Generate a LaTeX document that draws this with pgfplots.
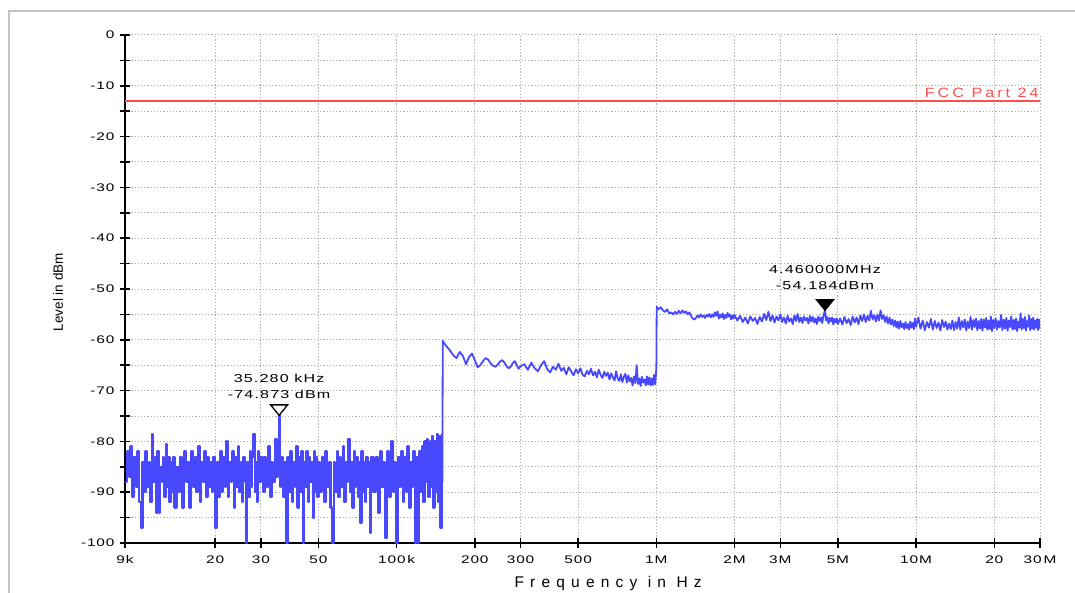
\documentclass[border=0pt]{standalone}
\usepackage{fontspec}
\setmainfont{Liberation Sans}
\newfontfamily\tickfont[FakeStretch=1.4,LetterSpace=8]{Liberation Sans}
\newfontfamily\xlabfont[LetterSpace=40]{Liberation Sans}
\newfontfamily\mkfont[FakeStretch=1.4,LetterSpace=10]{Liberation Sans}
\newfontfamily\fccfont[FakeStretch=1.2,LetterSpace=22]{Liberation Sans}
\usepackage{pgfplots}
\pgfplotsset{compat=1.18}
\definecolor{trace}{RGB}{72,72,255}
\definecolor{limit}{RGB}{255,77,77}
\definecolor{frame}{RGB}{195,195,195}
\pgfdeclareplotmark{tridown}{%
  \pgfpathmoveto{\pgfqpoint{0pt}{0pt}}%
  \pgfpathlineto{\pgfqpoint{-8.5pt}{10.5pt}}%
  \pgfpathlineto{\pgfqpoint{8.5pt}{10.5pt}}%
  \pgfpathclose
  \pgfusepathqfillstroke}
\begin{document}
\begin{tikzpicture}[x=1pt,y=1pt]
\draw[frame, line width=1.5pt] (9,-10) -- (9,581) -- (1085,581);
\begin{axis}[
  at={(125pt,49pt)}, anchor=south west,
  scale only axis, width=915pt, height=508pt,
  xmode=log, xmin=9000, xmax=30000000, ymin=-100, ymax=0,
  axis lines=left, axis line style={-, line width=2pt, black},
  xtick={9000,20000,30000,50000,100000,200000,300000,500000,1000000,2000000,3000000,5000000,10000000,20000000,30000000},
  xticklabels={9k,20,30,50,100\,k,200,300,500,1M,2M,3M,5M,10M,20,30\,M},
  minor xtick={},
  ytick={-100,-90,...,0},
  yticklabels={-100,-90,-80,-70,-60,-50,-40,-30,-20,-10,0},
  minor ytick={-95,-85,...,-5},
  grid=both,
  major grid style={dash pattern=on 1.2pt off 2pt, line width=1pt, black!32},
  minor grid style={dash pattern=on 1.2pt off 2pt, line width=1pt, black!32},
  tick align=center,
  major tick length=10pt, minor tick length=10pt,
  every tick/.style={black, line width=1.5pt},
  xticklabel style={font=\tickfont\fontsize{11}{13}\selectfont, yshift=-4pt},
  yticklabel style={font=\tickfont\fontsize{11}{13}\selectfont, xshift=-2pt},
  xlabel={Frequency in Hz},
  xlabel style={font=\xlabfont\fontsize{15.5}{17}\selectfont, at={(axis description cs:0.528,0)}, anchor=base, yshift=-44.5pt},
  ylabel={Level in dBm},
  ylabel style={font=\fontsize{13.5}{15}\selectfont, at={(axis description cs:-0.0732,0.494)}, anchor=center},
]
\addplot[limit, line width=2.8pt] coordinates {(9000,-13) (30000000,-13)}
  node[pos=1, anchor=base east, yshift=3.5pt, inner sep=0pt, font=\fccfont\fontsize{13.5}{15}\selectfont, text=limit] {FCC Part 24};
\addplot[trace, line width=2.2pt, line join=round, mark=none, const plot] coordinates {
(9000,-88)(9150,-82)(9300,-87)(9450,-81)(9600,-91)(9750,-83)(9900,-89)(10050,-82)(10200,-92)(10350,-97)(10500,-84)(10650,-90)(10800,-82)(10950,-89)(11100,-84)(11250,-92)(11400,-78.5)(11550,-88)(11700,-83)(11850,-94)(12000,-82)(12150,-94)(12300,-85)(12450,-88)(12600,-83)(12750,-91)(12900,-80.5)(13050,-89)(13200,-83)(13350,-92)(13500,-84)(13650,-90)(13800,-83)(13950,-93)
(14200,-85)(14450,-90)(14700,-83)(14950,-93)(15200,-82)(15450,-88)(15700,-84)(15950,-93)(16200,-82)(16450,-89)(16700,-83)(16950,-90)(17200,-81)(17450,-92)(17700,-84)(17950,-88)(18200,-82)(18450,-91)(18700,-83)(18950,-89)(19200,-84)(19450,-90)(19700,-83)(19950,-97)
(20300,-84)(20600,-91)(20900,-82)(21200,-90)(21500,-83)(21800,-89)(22100,-80)(22400,-91)(22700,-84)(23000,-88)(23300,-82)(23600,-93)(23900,-83)(24200,-89)(24500,-81)(24800,-90)(25100,-84)(25400,-92)(25700,-83)(26000,-88)(26300,-100)(26600,-84)(26900,-91)(27200,-82)(27500,-89)(27800,-83)(28100,-78.5)(28400,-90)(28700,-84)(29000,-92)(29300,-82)(29600,-88)(29900,-83)
(30500,-90)(31000,-83)(31500,-89)(32000,-81)(32500,-91)(33000,-84)(33500,-88)(34000,-79.5)(34500,-87)(35000,-82)(35280,-74.873)(35500,-89)(36000,-83)(36500,-91)(37000,-84)(37500,-100)(38000,-83)(38500,-90)(39000,-82)(39500,-92)(40000,-84)(40500,-89)(41000,-81)(41500,-93)(42000,-83)(42500,-90)(43000,-82)(43500,-100)(44000,-84)(44500,-89)(45000,-82)(45500,-92)(46000,-83)(46500,-88)(47000,-84)(47500,-95)(48000,-82)(48500,-90)(49000,-83)(49500,-91)(50000,-84)
(50800,-90)(51600,-83)(52400,-92)(53200,-82)(54000,-89)(54800,-84)(55600,-93)(56400,-100)(57200,-84)(58000,-90)(58800,-82)(59600,-91)(60400,-83)(61200,-89)(62000,-81)(62800,-92)(63600,-84)(64400,-88)(65200,-79.5)(66000,-90)(66800,-84)(67600,-93)(68400,-82)(69200,-89)(70000,-83)(70800,-91)(71600,-84)(72400,-96)(73200,-82)(74000,-90)(74800,-84)(75600,-92)(76400,-83)(77200,-89)(78000,-84)(78800,-98)(79600,-83)
(81500,-90)(83000,-83)(84500,-94)(86000,-82)(87500,-89)(89000,-84)(90500,-99)(92000,-82)(93500,-91)(95000,-80)(96500,-90)(98000,-84)(99500,-100)(101000,-83)(102500,-89)(104000,-82)(105500,-92)(107000,-83)(108500,-90)(110000,-81)(111500,-93)(113000,-84)(114500,-89)(116000,-82)(117500,-100)(119000,-83)(120500,-100)(122000,-82)(123500,-90)(125000,-81)(126500,-92)(128000,-80)(129500,-88)(131000,-79.5)(132500,-91)(134000,-80)(135500,-89)(137000,-79)(138500,-93)(140000,-80)(141500,-90)(143000,-78.5)(144500,-92)(146000,-79)(147500,-97)(149000,-78.5)(150000,-88)
};
\addplot[trace, line width=1.8pt, line join=round, mark=none] coordinates {
(150000,-88)(150500,-60.2)(155000,-61.2)(160000,-62.0)(165000,-63.0)(170000,-63.6)(175000,-62.4)(180000,-63.2)(185000,-64.8)(190000,-63.4)(195000,-62.7)(200000,-64.0)(205000,-65.4)(210000,-65.0)(215000,-64.2)(220000,-63.6)(225000,-63.9)(230000,-64.6)(235000,-65.1)(240000,-65.3)(245000,-64.9)(250000,-64.3)(255000,-64.0)(260000,-64.5)(265000,-65.2)(270000,-65.6)(275000,-65.3)(280000,-64.6)(285000,-64.2)(290000,-65.0)(295000,-65.7)(300000,-65.2)
(310000,-64.8)(320000,-65.9)(330000,-64.5)(340000,-65.6)(350000,-66.2)(360000,-65.0)(370000,-64.2)(380000,-65.8)(390000,-66.4)(400000,-65.3)(410000,-65.9)(420000,-64.7)(430000,-66.1)(440000,-65.5)(450000,-66.8)(460000,-65.4)(470000,-66.2)(480000,-67.0)(490000,-65.8)(500000,-66.6)
(510000,-65.6)(520000,-66.9)(530000,-67.2)(540000,-66.1)(550000,-66.8)(560000,-65.7)(570000,-67.0)(580000,-66.3)(590000,-67.4)(600000,-65.9)(610000,-66.9)(620000,-67.5)(630000,-66.3)(640000,-67.1)(650000,-66.5)(660000,-67.8)(670000,-66.6)(680000,-67.4)(690000,-68.0)(700000,-66.2)
(710000,-67.6)(720000,-68.1)(730000,-66.8)(740000,-68.3)(750000,-67.3)(760000,-66.7)(770000,-68.4)(780000,-67.0)(790000,-68.2)(800000,-67.5)(810000,-69.0)(820000,-67.2)(830000,-68.5)(840000,-65.0)(850000,-68.7)(860000,-67.6)(870000,-69.1)(880000,-67.3)(890000,-68.4)(900000,-67.8)
(910000,-69.0)(920000,-67.2)(930000,-68.8)(940000,-67.4)(950000,-69.0)(960000,-67.6)(970000,-68.9)(980000,-66.9)(990000,-68.8)(1000000,-65.5)
(1003000,-53.5)(1020000,-54.0)(1040000,-53.6)(1060000,-54.2)(1080000,-54.5)(1100000,-54.0)(1120000,-54.8)(1140000,-54.6)(1160000,-55.0)(1180000,-54.5)(1200000,-54.9)(1220000,-54.3)(1240000,-54.8)(1260000,-54.2)(1280000,-54.7)(1300000,-54.4)(1320000,-55.0)(1340000,-54.6)(1360000,-55.3)(1380000,-55.8)(1400000,-56.0)
(1420000,-55.7)(1440000,-55.2)(1460000,-55.6)(1480000,-55.0)(1500000,-55.5)(1520000,-55.2)(1540000,-55.7)(1560000,-55.1)(1580000,-55.4)(1600000,-54.9)(1620000,-55.6)(1640000,-55.0)(1660000,-55.5)(1680000,-54.6)(1700000,-55.3)(1720000,-54.4)(1740000,-55.8)(1760000,-55.0)(1780000,-55.6)(1800000,-54.8)
(1820000,-55.9)(1840000,-55.1)(1860000,-55.7)(1880000,-54.7)(1900000,-55.4)(1920000,-55.0)(1940000,-56.0)(1960000,-55.2)(1980000,-55.8)(2000000,-55.1)
(2050000,-56.2)(2100000,-55.3)(2150000,-56.5)(2200000,-55.6)(2250000,-56.8)(2300000,-55.4)(2350000,-56.3)(2400000,-55.7)(2450000,-56.9)(2500000,-55.5)(2550000,-56.4)(2600000,-54.9)(2650000,-56.1)(2700000,-54.5)(2750000,-56.3)(2800000,-55.2)(2850000,-56.6)(2900000,-55.4)(2950000,-56.2)(3000000,-55.0)
(3050000,-56.5)(3100000,-55.6)(3150000,-56.8)(3200000,-55.3)(3250000,-56.4)(3300000,-55.8)(3350000,-56.9)(3400000,-55.2)(3450000,-56.3)(3500000,-54.9)(3550000,-56.5)(3600000,-55.6)(3650000,-56.7)(3700000,-55.4)(3750000,-56.2)(3800000,-55.7)(3850000,-56.8)(3900000,-55.3)(3950000,-56.4)(4000000,-55.5)
(4050000,-56.6)(4100000,-55.8)(4150000,-56.9)(4200000,-55.4)(4250000,-56.3)(4300000,-55.6)(4350000,-56.7)(4400000,-55.2)(4460000,-54.184)(4500000,-56.2)(4550000,-55.5)(4600000,-56.8)(4650000,-55.7)(4700000,-56.4)(4750000,-55.6)(4800000,-57.0)(4850000,-55.9)(4900000,-56.6)(4950000,-55.8)(5000000,-56.9)
(5100000,-55.8)(5200000,-57.0)(5300000,-55.5)(5400000,-56.7)(5500000,-55.9)(5600000,-57.1)(5700000,-55.4)(5800000,-56.6)(5900000,-55.6)(6000000,-56.9)(6100000,-55.2)(6200000,-56.3)(6300000,-55.0)(6400000,-56.5)(6500000,-55.3)(6600000,-56.2)(6700000,-54.3)(6800000,-56.0)(6900000,-55.1)(7000000,-56.4)
(7100000,-55.0)(7200000,-56.2)(7300000,-54.2)(7400000,-55.9)(7500000,-55.2)(7600000,-56.5)(7700000,-55.4)(7800000,-56.8)(7900000,-55.6)(8000000,-57.0)(8100000,-56.0)(8200000,-57.3)(8300000,-56.2)(8400000,-57.6)(8500000,-56.4)(8600000,-57.8)(8700000,-56.3)(8800000,-57.5)(8900000,-56.8)(9000000,-57.9)
(9100000,-56.5)(9200000,-57.7)(9300000,-56.9)(9400000,-58.0)(9500000,-56.4)(9600000,-57.6)(9700000,-56.7)(9800000,-57.9)(9900000,-55.8)(10000000,-57.4)
(10200000,-55.6)(10400000,-57.8)(10600000,-56.2)(10800000,-58.1)(11000000,-56.5)(11200000,-57.6)(11400000,-55.9)(11600000,-58.0)(11800000,-56.3)(12000000,-57.7)(12200000,-56.6)(12400000,-58.2)(12600000,-56.1)(12800000,-57.5)(13000000,-56.4)(13200000,-58.0)(13400000,-56.8)(13600000,-57.9)(13800000,-56.2)(14000000,-58.1)
(14200000,-56.5)(14400000,-57.8)(14600000,-55.6)(14800000,-58.0)(15000000,-56.3)(15200000,-57.6)(15400000,-56.0)(15600000,-58.2)(15800000,-56.4)(16000000,-57.7)(16200000,-55.5)(16400000,-58.0)(16600000,-56.1)(16800000,-57.5)(17000000,-55.8)(17200000,-58.1)(17400000,-56.3)(17600000,-57.8)(17800000,-55.9)(18000000,-58.2)
(18200000,-56.0)(18400000,-57.6)(18600000,-55.7)(18800000,-58.0)(19000000,-56.2)(19200000,-57.9)(19400000,-55.4)(19600000,-58.3)(19800000,-56.1)(20000000,-57.7)
(20250000,-55.8)(20500000,-58.0)(20750000,-56.3)(21000000,-57.6)(21250000,-55.1)(21500000,-58.1)(21750000,-56.0)(22000000,-57.8)(22250000,-55.7)(22500000,-58.2)(22750000,-56.2)(23000000,-57.5)(23250000,-55.4)(23500000,-58.0)(23750000,-56.1)(24000000,-57.9)(24250000,-55.8)(24500000,-58.3)(24750000,-56.4)(25000000,-57.6)
(25250000,-54.8)(25500000,-58.0)(25750000,-55.9)(26000000,-57.7)(26250000,-55.5)(26500000,-58.2)(26750000,-56.3)(27000000,-57.4)(27250000,-55.2)(27500000,-58.1)(27750000,-55.9)(28000000,-57.8)(28250000,-55.6)(28500000,-58.0)(28750000,-56.2)(29000000,-57.6)(29250000,-55.9)(29500000,-58.1)(29750000,-56.0)(30000000,-57.8)
};
\addplot[only marks, mark=tridown, mark options={draw=black, fill=white, line width=1.3pt},
  nodes near coords={35.280 kHz\\-74.873 dBm},
  every node near coord/.append style={anchor=south, align=center, inner sep=0pt, yshift=16pt, text=black, font=\mkfont\fontsize{11.5}{16}\selectfont}]
  coordinates {(35280,-74.873)};
\addplot[only marks, mark=tridown, mark options={draw=black, fill=black, line width=1.3pt},
  nodes near coords={4.460000MHz\\-54.184dBm},
  every node near coord/.append style={anchor=south, align=center, inner sep=0pt, yshift=20pt, text=black, font=\mkfont\fontsize{11.5}{15.5}\selectfont}]
  coordinates {(4460000,-54.184)};
\end{axis}
\pgfresetboundingbox
\path[use as bounding box] (0,0) rectangle (1075,592);
\end{tikzpicture}
\end{document}
